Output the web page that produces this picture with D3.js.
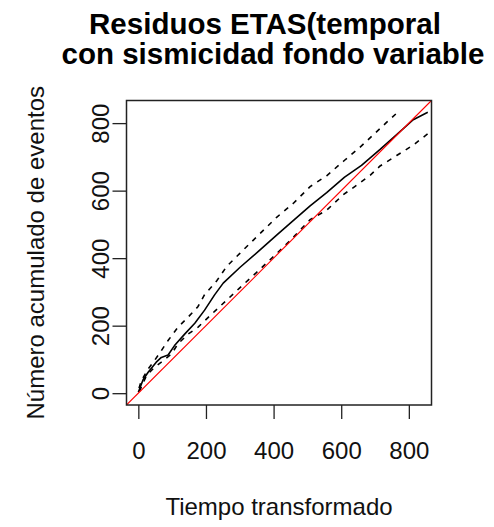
<!DOCTYPE html>
<html>
<head>
<meta charset="utf-8">
<script src="https://cdn.jsdelivr.net/npm/d3@7"></script>
<style>
  html, body { margin: 0; padding: 0; background: #ffffff; }
  svg { display: block; font-family: "Liberation Sans", Arial, sans-serif; }
</style>
</head>
<body>
<svg id="chart" width="494" height="527"></svg>
<script>
// ---- chart text ----
const titleLines = ["Residuos ETAS(temporal", "con sismicidad fondo variable"];
const xLabel = "Tiempo transformado";
const yLabel = "Número acumulado de eventos";
const xTicks = [0, 200, 400, 600, 800];
const yTicks = [0, 200, 400, 600, 800];

// ---- observed cumulative number of events vs transformed time ----
const obsTime  = [0, 14, 29, 53, 68, 88, 107, 137, 167, 196, 226, 251, 301, 355, 409, 458, 508, 557, 610, 660, 715, 764, 813, 856];
const obsCount = [3, 40, 62, 92, 106, 113, 141, 175, 207, 246, 292, 326, 373, 420, 468, 511, 555, 594, 640, 675, 722, 766, 810, 832];

// ---- upper confidence band ----
const upperTime  = [2, 9, 29, 48, 68, 88, 117, 147, 176, 196, 232, 261, 301, 355, 409, 458, 508, 557, 610, 655, 700, 734, 769];
const upperCount = [15, 37, 72, 97, 126, 156, 195, 225, 256, 292, 333, 375, 415, 468, 521, 562, 612, 644, 690, 728, 770, 802, 834];

// ---- lower confidence band ----
const lowerTime  = [3, 12, 24, 48, 68, 98, 117, 147, 176, 206, 236, 265, 300, 350, 400, 450, 508, 557, 606, 640, 685, 715, 764, 813, 867];
const lowerCount = [5, 25, 52, 77, 92, 116, 146, 175, 195, 224, 252, 279, 312, 358, 405, 453, 514, 542, 588, 612, 645, 673, 704, 735, 777];

// ---- axis range (shared by both axes, so y = x runs corner to corner) ----
const axisRange = [-35, 867];

const plot = { left: 126.5, right: 431.5, top: 100.5, bottom: 405 };

const svg = d3.select("#chart");

const x = d3.scaleLinear().domain(axisRange).range([plot.left, plot.right]);
const y = d3.scaleLinear().domain(axisRange).range([plot.bottom, plot.top]);

const zip = (a, b) => a.map((v, i) => [v, b[i]]);
const line = d3.line().x(d => x(d[0])).y(d => y(d[1]));

// clip to plotting region
svg.append("defs").append("clipPath").attr("id", "plotClip")
  .append("rect")
  .attr("x", plot.left).attr("y", plot.top)
  .attr("width", plot.right - plot.left).attr("height", plot.bottom - plot.top);

// title
svg.append("g").selectAll("text").data(titleLines).join("text")
  .attr("x", (d, i) => i === 0 ? 265 : 273)
  .attr("y", (d, i) => 33.5 + i * 30)
  .attr("text-anchor", "middle")
  .attr("font-weight", "bold")
  .attr("font-size", 29.5)
  .attr("fill", "#000")
  .text(d => d);

// x axis
const xAxis = svg.append("g")
  .attr("transform", `translate(0,${plot.bottom})`)
  .call(d3.axisBottom(x).tickValues(xTicks).tickSize(14).tickSizeOuter(0));
xAxis.select(".domain").remove();
xAxis.selectAll("line").attr("stroke", "#222").attr("stroke-width", 1.3);
xAxis.selectAll("text")
  .attr("y", 53.5).attr("dy", 0)
  .attr("font-size", 24).attr("fill", "#111")
  .attr("font-family", "Liberation Sans, Arial, sans-serif");

// y axis with labels parallel to the axis
const yAxis = svg.append("g")
  .attr("transform", `translate(${plot.left},0)`)
  .call(d3.axisLeft(y).tickValues(yTicks).tickSize(14).tickSizeOuter(0));
yAxis.select(".domain").remove();
yAxis.selectAll("line").attr("stroke", "#222").attr("stroke-width", 1.3);
yAxis.selectAll("text")
  .attr("x", 0).attr("dy", 0)
  .attr("text-anchor", "middle")
  .attr("transform", "translate(-18,0) rotate(-90)")
  .attr("font-size", 24).attr("fill", "#111")
  .attr("font-family", "Liberation Sans, Arial, sans-serif");

// axis titles
svg.append("text")
  .attr("x", (plot.left + plot.right) / 2)
  .attr("y", 515)
  .attr("text-anchor", "middle")
  .attr("font-size", 24).attr("fill", "#111")
  .text(xLabel);

svg.append("text")
  .attr("transform", `translate(44,${(plot.top + plot.bottom) / 2}) rotate(-90)`)
  .attr("text-anchor", "middle")
  .attr("font-size", 24).attr("fill", "#111")
  .text(yLabel);

// data layers
const layer = svg.append("g").attr("clip-path", "url(#plotClip)");

layer.append("path")
  .datum(zip(obsTime, obsCount))
  .attr("d", line)
  .attr("fill", "none").attr("stroke", "#000")
  .attr("stroke-width", 1.6).attr("stroke-linejoin", "round");

[zip(upperTime, upperCount), zip(lowerTime, lowerCount)].forEach(band => {
  layer.append("path")
    .datum(band)
    .attr("d", line)
    .attr("fill", "none").attr("stroke", "#000")
    .attr("stroke-width", 1.6)
    .attr("stroke-dasharray", "5,6");
});

// reference line y = x
layer.append("path")
  .datum([[axisRange[0], axisRange[0]], [axisRange[1], axisRange[1]]])
  .attr("d", line)
  .attr("fill", "none").attr("stroke", "#ff0000").attr("stroke-width", 1.1);

// plot box
svg.append("rect")
  .attr("x", plot.left).attr("y", plot.top)
  .attr("width", plot.right - plot.left).attr("height", plot.bottom - plot.top)
  .attr("fill", "none").attr("stroke", "#222").attr("stroke-width", 1.5);
</script>
</body>
</html>
